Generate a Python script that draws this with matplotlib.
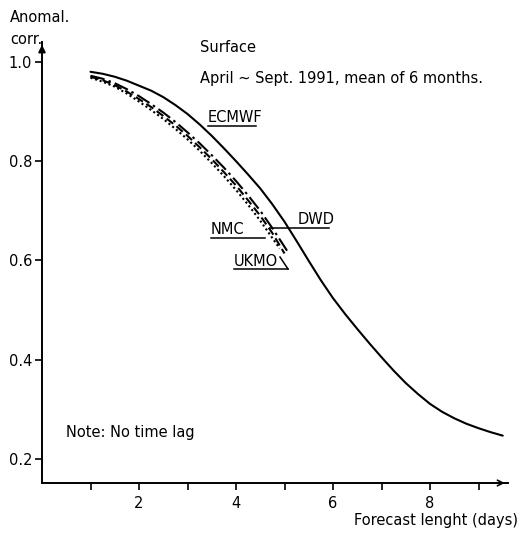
import matplotlib
matplotlib.use("Agg")
import matplotlib.pyplot as plt

# ---- data ----
ecmwf_x = [1.0, 1.25, 1.5, 1.75, 2.0, 2.25, 2.5, 2.75, 3.0, 3.25, 3.5, 3.75, 4.0, 4.25, 4.5, 4.75,
           5.0, 5.25, 5.5, 5.75, 6.0, 6.25, 6.5, 6.75, 7.0, 7.25, 7.5, 7.75, 8.0, 8.25, 8.5, 8.75,
           9.0, 9.25, 9.5]
ecmwf_y = [0.980, 0.976, 0.970, 0.962, 0.952, 0.942, 0.929, 0.913, 0.895, 0.874, 0.851, 0.826,
           0.800, 0.773, 0.745, 0.713, 0.678, 0.639, 0.599, 0.560, 0.524, 0.492, 0.462, 0.433,
           0.405, 0.378, 0.353, 0.331, 0.311, 0.295, 0.282, 0.271, 0.262, 0.254, 0.247]

dwd_x = [1.0, 1.25, 1.5, 1.75, 2.0, 2.25, 2.5, 2.75, 3.0, 3.25, 3.5, 3.75, 4.0, 4.25, 4.5, 4.75, 5.07]
dwd_y = [0.972, 0.966, 0.957, 0.945, 0.931, 0.915, 0.898, 0.879, 0.858, 0.836, 0.812, 0.787,
         0.760, 0.731, 0.700, 0.665, 0.617]

ukmo_x = [1.0, 1.25, 1.5, 1.75, 2.0, 2.25, 2.5, 2.75, 3.0, 3.25, 3.5, 3.75, 4.0, 4.25, 4.5, 4.75, 5.0]
ukmo_y = [0.970, 0.963, 0.953, 0.940, 0.925, 0.909, 0.891, 0.872, 0.851, 0.828, 0.804, 0.778,
          0.751, 0.721, 0.690, 0.655, 0.614]

nmc_x = [1.0, 1.25, 1.5, 1.75, 2.0, 2.25, 2.5, 2.75, 3.0, 3.25, 3.5, 3.75, 4.0, 4.25, 4.5, 4.75, 4.9]
nmc_y = [0.968, 0.960, 0.950, 0.936, 0.920, 0.903, 0.885, 0.865, 0.844, 0.821, 0.796, 0.770,
         0.742, 0.712, 0.680, 0.645, 0.624]

xticks = [2, 4, 6, 8]
xminor = [1, 3, 5, 7, 9]
yticks = [0.2, 0.4, 0.6, 0.8, 1.0]
ytick_labels = ["0.2", "0.4", "0.6", "0.8", "1.0"]

W, H = 522, 535
fig = plt.figure(figsize=(W / 100, H / 100), dpi=100)
ax = fig.add_axes([42 / W, 1 - 483 / H, (507.6 - 42) / W, (483 - 42) / H])
ax.set_xlim(0, 9.6)
ax.set_ylim(0.1516, 1.040)

lw = 1.5
ax.plot(ecmwf_x, ecmwf_y, color="black", lw=lw, solid_capstyle="round", solid_joinstyle="round")
ax.plot(dwd_x, dwd_y, color="black", lw=lw, linestyle=(0, (7, 2, 1.2, 2)))
ax.plot(ukmo_x, ukmo_y, color="black", lw=lw, linestyle=(0, (4, 2)))
ax.plot(nmc_x, nmc_y, color="black", lw=lw, linestyle=(0, (1, 1.3)))

for s in ["top", "right"]:
    ax.spines[s].set_visible(False)
for s in ["left", "bottom"]:
    ax.spines[s].set_linewidth(1.4)

ax.set_xticks(xticks)
ax.set_xticks(xminor, minor=True)
ax.set_yticks(yticks)
ax.set_yticklabels(ytick_labels)
ax.tick_params(axis="both", which="both", direction="out", length=5, width=1.2, labelsize=10.5)
ax.tick_params(axis="x", which="major", pad=4)
ax.tick_params(axis="y", which="major", pad=2)

# axis arrows
ax.annotate("", xy=(0, 1.0), xytext=(0, 0.97), xycoords="axes fraction",
            arrowprops=dict(arrowstyle="-|>", color="black", lw=1.4, mutation_scale=10))
ax.annotate("", xy=(1.0, 0), xytext=(0.97, 0), xycoords="axes fraction",
            arrowprops=dict(arrowstyle="->", color="black", lw=1.2, mutation_scale=10))

def px(x, y):
    return (x / W, 1 - y / H)

fs = 10.5
fig.text(*px(10, 18), "Anomal.", fontsize=fs, va="center", ha="left")
fig.text(*px(10, 40), "corr.", fontsize=fs, va="center", ha="left")
fig.text(*px(200, 48), "Surface", fontsize=fs, va="center", ha="left")
fig.text(*px(200, 78), "April ~ Sept. 1991, mean of 6 months.", fontsize=fs, va="center", ha="left")
fig.text(*px(208, 118), "ECMWF", fontsize=fs, va="center", ha="left")
fig.text(*px(298, 219), "DWD", fontsize=fs, va="center", ha="left")
fig.text(*px(211, 230), "NMC", fontsize=fs, va="center", ha="left")
fig.text(*px(234, 261), "UKMO", fontsize=fs, va="center", ha="left")
fig.text(*px(66, 433), "Note: No time lag", fontsize=fs, va="center", ha="left")
fig.text(*px(518, 520), "Forecast lenght (days)", fontsize=fs, va="center", ha="right")

# label underlines / leader lines (figure pixel coordinates)
def fline(xs, ys):
    fig.add_artist(plt.Line2D([x / W for x in xs], [1 - y / H for y in ys], color="black", lw=1.1))

fline([208, 256], [126, 126])
fline([270, 329], [228, 228])
fline([211, 265], [238, 238])
fline([234, 288], [269, 269])
fline([280, 288], [257, 269])

fig.savefig("out.png", dpi=100)
